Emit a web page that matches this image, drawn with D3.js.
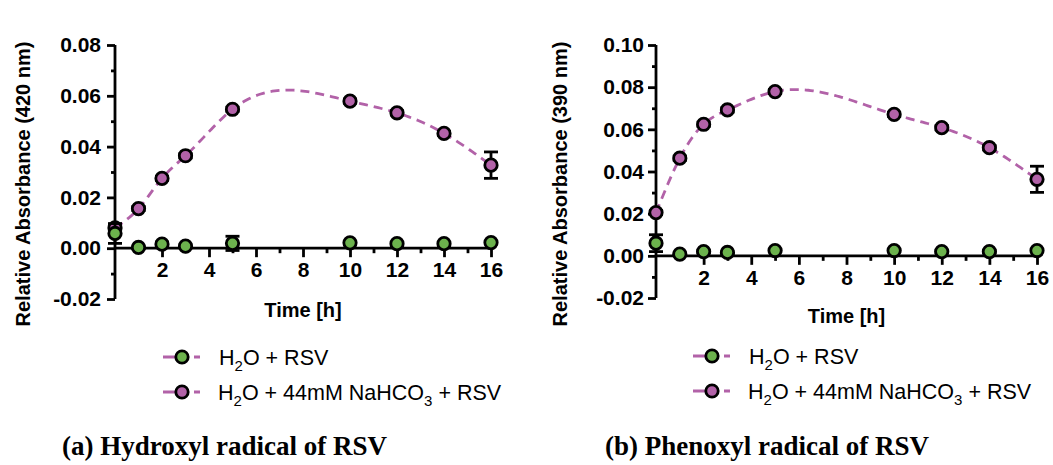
<!DOCTYPE html>
<html>
<head>
<meta charset="utf-8">
<script src="https://cdn.jsdelivr.net/npm/d3@7"></script>
<style>
  html, body { margin: 0; padding: 0; background: #fff; }
  svg { display: block; }
</style>
</head>
<body>
<svg id="fig" width="1053" height="465"></svg>
<script>
// Sampling times (h)
const times = [0, 1, 2, 3, 5, 10, 12, 14, 16];

// Panel (a): hydroxyl radical, absorbance at 420 nm
const hydroxylWater = [0.0058, 0.0003, 0.0016, 0.0008, 0.0019, 0.0021, 0.0018, 0.0018, 0.0022];
const hydroxylWaterErr = [0.0039, 0.0005, 0.0008, 0.0005, 0.0028, 0.0005, 0.0005, 0.0005, 0.0005];
const hydroxylBicarb = [0.0080, 0.0156, 0.0275, 0.0364, 0.0547, 0.0579, 0.0533, 0.0452, 0.0327];
const hydroxylBicarbErr = [0.0012, 0.0008, 0.0008, 0.0008, 0.0008, 0.0008, 0.0008, 0.0008, 0.0052];

// Panel (b): phenoxyl radical, absorbance at 390 nm
const phenoxylWater = [0.0060, 0.0008, 0.0020, 0.0016, 0.0025, 0.0025, 0.0020, 0.0020, 0.0025];
const phenoxylWaterErr = [0.0040, 0.0005, 0.0005, 0.0005, 0.0005, 0.0005, 0.0005, 0.0005, 0.0005];
const phenoxylBicarb = [0.0205, 0.0463, 0.0624, 0.0692, 0.0779, 0.0671, 0.0608, 0.0513, 0.0363];
const phenoxylBicarbErr = [0.0010, 0.0010, 0.0010, 0.0010, 0.0010, 0.0010, 0.0010, 0.0010, 0.0062];

const xMajorTicks = [2, 4, 6, 8, 10, 12, 14, 16];
const xMinorTicks = [1, 3, 5, 7, 9, 11, 13, 15];
const yTicksA = [-0.02, 0, 0.02, 0.04, 0.06, 0.08];
const yMinorA = [-0.01, 0.01, 0.03, 0.05, 0.07];
const yTicksB = [-0.02, 0, 0.02, 0.04, 0.06, 0.08, 0.10];
const yMinorB = [-0.01, 0.01, 0.03, 0.05, 0.07, 0.09];

const captions = ["(a) Hydroxyl radical of RSV", "(b) Phenoxyl radical of RSV"];

const GREEN = "#6cb24d";
const PURPLE = "#b262a8";
const svg = d3.select("#fig");
const fmt = d => d3.format(".2f")(d).replace("\u2212", "-");
const SANS = "Liberation Sans, Arial, Helvetica, sans-serif";

// Natural cubic spline y(t) through (xs, ys); returns an evaluator
function naturalSpline(xs, ys) {
  const n = xs.length;
  const h = [], al = [], l = [1], mu = [0], z = [0], c = new Array(n).fill(0), b = [], d = [];
  for (let i = 0; i < n - 1; i++) h[i] = xs[i + 1] - xs[i];
  for (let i = 1; i < n - 1; i++)
    al[i] = 3 / h[i] * (ys[i + 1] - ys[i]) - 3 / h[i - 1] * (ys[i] - ys[i - 1]);
  for (let i = 1; i < n - 1; i++) {
    l[i] = 2 * (xs[i + 1] - xs[i - 1]) - h[i - 1] * mu[i - 1];
    mu[i] = h[i] / l[i];
    z[i] = (al[i] - h[i - 1] * z[i - 1]) / l[i];
  }
  for (let j = n - 2; j >= 0; j--) {
    c[j] = z[j] - mu[j] * c[j + 1];
    b[j] = (ys[j + 1] - ys[j]) / h[j] - h[j] * (c[j + 1] + 2 * c[j]) / 3;
    d[j] = (c[j + 1] - c[j]) / (3 * h[j]);
  }
  return t => {
    let j = Math.min(n - 2, Math.max(0, d3.bisectRight(xs, t) - 1));
    const dx = t - xs[j];
    return ys[j] + b[j] * dx + c[j] * dx * dx + d[j] * dx * dx * dx;
  };
}

function panel(opt) {
  const x = d3.scaleLinear().domain([0, 16]).range(opt.xr);
  const y = d3.scaleLinear().domain(opt.yd).range(opt.yr);
  const g = svg.append("g");
  const SW = 2.8;

  // y axis: major ticks with labels, minor ticks without
  const yAxis = g.append("g").attr("transform", `translate(${x(0)},0)`)
    .call(d3.axisLeft(y).tickValues(opt.yTicks).tickSize(8).tickSizeOuter(0).tickFormat(fmt).tickPadding(opt.yPad));
  yAxis.select(".domain").attr("stroke-width", SW).attr("d", `M0,${y(opt.yd[1])}V${y(opt.yd[0])}`);
  yAxis.selectAll(".tick line").attr("stroke-width", SW);
  yAxis.selectAll("text").attr("font-family", SANS)
    .attr("font-weight", "bold").attr("font-size", 21).attr("fill", "#000");
  g.append("g").attr("transform", `translate(${x(0)},0)`)
    .call(d3.axisLeft(y).tickValues(opt.yMinor).tickSize(4).tickFormat(""))
    .call(s => s.select(".domain").remove())
    .selectAll(".tick line").attr("stroke-width", SW);

  // x axis drawn along y = 0
  const xAxis = g.append("g").attr("transform", `translate(0,${y(0)})`)
    .call(d3.axisBottom(x).tickValues(xMajorTicks).tickSize(9).tickSizeOuter(0).tickFormat(d3.format("d")).tickPadding(opt.xPad));
  xAxis.select(".domain").attr("stroke-width", SW).attr("d", `M${x(0)},0H${x(16) + 1}`);
  xAxis.selectAll(".tick line").attr("stroke-width", SW);
  xAxis.selectAll("text").attr("font-family", SANS)
    .attr("font-weight", "bold").attr("font-size", 21).attr("fill", "#000");
  g.append("g").attr("transform", `translate(0,${y(0)})`)
    .call(d3.axisBottom(x).tickValues(xMinorTicks).tickSize(5).tickFormat(""))
    .call(s => s.select(".domain").remove())
    .selectAll(".tick line").attr("stroke-width", SW);

  // axis titles
  g.append("text").attr("transform", `translate(${opt.yTitleX},${opt.yTitleY}) rotate(-90)`)
    .attr("text-anchor", "middle").attr("font-family", SANS)
    .attr("font-weight", "bold").attr("font-size", 20).text(opt.yTitle);
  g.append("text").attr("x", (opt.xr[0] + opt.xr[1]) / 2).attr("y", opt.xTitleY)
    .attr("text-anchor", "middle").attr("font-family", SANS)
    .attr("font-weight", "bold").attr("font-size", 20).text("Time [h]");

  // smooth dashed spline through the bicarbonate series
  const f = naturalSpline(times, opt.bicarb);
  const ts = d3.range(0, 16.001, 0.1);
  g.append("path").datum(ts)
    .attr("d", d3.line().x(t => x(t)).y(t => y(f(t))))
    .attr("fill", "none").attr("stroke", PURPLE).attr("stroke-width", SW)
    .attr("stroke-dasharray", "9,6");

  function drawSeries(vals, errs, fill) {
    const data = times.map((t, i) => ({ t, v: vals[i], e: errs[i] }));
    const eb = g.append("g").selectAll("g").data(data).join("g");
    eb.append("line").attr("x1", d => x(d.t)).attr("x2", d => x(d.t))
      .attr("y1", d => y(d.v + d.e)).attr("y2", d => y(d.v - d.e));
    eb.append("line").attr("x1", d => x(d.t) - 7).attr("x2", d => x(d.t) + 7)
      .attr("y1", d => y(d.v + d.e)).attr("y2", d => y(d.v + d.e));
    eb.append("line").attr("x1", d => x(d.t) - 7).attr("x2", d => x(d.t) + 7)
      .attr("y1", d => y(d.v - d.e)).attr("y2", d => y(d.v - d.e));
    eb.selectAll("line").attr("stroke", "#000").attr("stroke-width", SW);
    g.append("g").selectAll("circle").data(data).join("circle")
      .attr("cx", d => x(d.t)).attr("cy", d => y(d.v)).attr("r", 6.2)
      .attr("fill", fill).attr("stroke", "#000").attr("stroke-width", SW);
  }
  drawSeries(opt.bicarb, opt.bicarbErr, PURPLE);
  drawSeries(opt.water, opt.waterErr, GREEN);

  // legend
  const lg = g.append("g");
  [GREEN, PURPLE].forEach((c, i) => {
    const yy = opt.legY + i * 35;
    lg.append("line").attr("x1", opt.legX).attr("x2", opt.legX + 37).attr("y1", yy).attr("y2", yy)
      .attr("stroke", PURPLE).attr("stroke-width", SW).attr("stroke-dasharray", "13,5,8,5");
    lg.append("circle").attr("cx", opt.legX + 19).attr("cy", yy).attr("r", 6.2)
      .attr("fill", c).attr("stroke", "#000").attr("stroke-width", SW);
    const t = lg.append("text").attr("x", opt.legX + 55 + (i === 0 ? 1 : 0)).attr("y", yy + 8)
      .attr("font-family", SANS).attr("font-size", 21.5);
    t.append("tspan").text("H");
    t.append("tspan").attr("font-size", 15).attr("dy", 6).text("2");
    if (i === 0) {
      t.append("tspan").attr("dy", -6).text("O + RSV");
    } else {
      t.append("tspan").attr("dy", -6).text("O + 44mM NaHCO");
      t.append("tspan").attr("font-size", 15).attr("dy", 6).text("3");
      t.append("tspan").attr("dy", -6).text(" + RSV");
    }
  });

  // caption
  g.append("text").attr("x", opt.capX).attr("y", 455)
    .attr("font-family", "Liberation Serif, Times New Roman, serif").attr("font-weight", "bold")
    .attr("font-size", 27).text(opt.caption);
}

panel({
  xr: [115, 491], yd: [-0.02, 0.08], yr: [299, 45],
  yTicks: yTicksA, yMinor: yMinorA, yPad: 6, xPad: 5,
  yTitle: "Relative Absorbance (420 nm)", yTitleX: 30, yTitleY: 184, xTitleY: 317,
  water: hydroxylWater, waterErr: hydroxylWaterErr,
  bicarb: hydroxylBicarb, bicarbErr: hydroxylBicarbErr,
  legX: 163, legY: 357, capX: 62, caption: captions[0]
});
panel({
  xr: [656, 1037], yd: [-0.02, 0.10], yr: [298, 45],
  yTicks: yTicksB, yMinor: yMinorB, yPad: 4, xPad: 5,
  yTitle: "Relative Absorbance (390 nm)", yTitleX: 567, yTitleY: 184, xTitleY: 323,
  water: phenoxylWater, waterErr: phenoxylWaterErr,
  bicarb: phenoxylBicarb, bicarbErr: phenoxylBicarbErr,
  legX: 693, legY: 356, capX: 605, caption: captions[1]
});
</script>
</body>
</html>
